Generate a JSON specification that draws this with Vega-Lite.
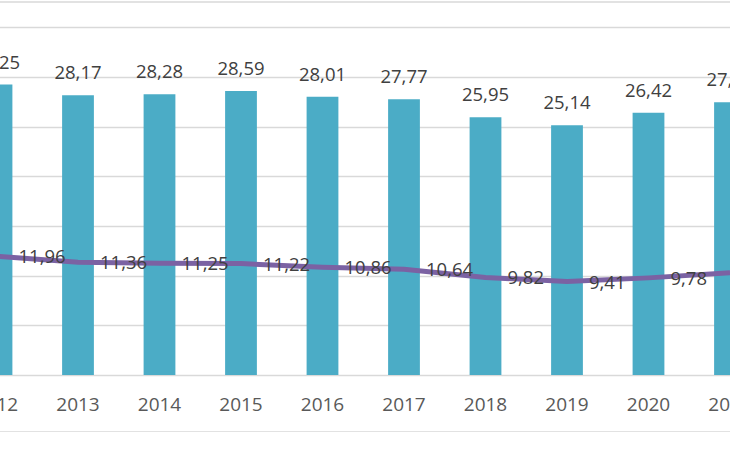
{
  "$schema": "https://vega.github.io/schema/vega-lite/v6.json",
  "width": 815,
  "height": 430,
  "autosize": {"type": "none"},
  "padding": {"left": -44.25, "top": 2, "right": 0, "bottom": 0},
  "background": "white",
  "config": {
    "view": {"stroke": "#d9d9d9", "strokeWidth": 1.5},
    "font": "Open Sans",
    "locale": {"number": {"decimal": ",", "thousands": ".", "grouping": [3], "currency": ["", " €"]}}
  },
  "data": {
    "values": [
      {"year": "2012", "bar": 29.25, "line": 11.96},
      {"year": "2013", "bar": 28.17, "line": 11.36},
      {"year": "2014", "bar": 28.28, "line": 11.25},
      {"year": "2015", "bar": 28.59, "line": 11.22},
      {"year": "2016", "bar": 28.01, "line": 10.86},
      {"year": "2017", "bar": 27.77, "line": 10.64},
      {"year": "2018", "bar": 25.95, "line": 9.82},
      {"year": "2019", "bar": 25.14, "line": 9.41},
      {"year": "2020", "bar": 26.42, "line": 9.78},
      {"year": "2021", "bar": 27.46, "line": 10.3}
    ]
  },
  "encoding": {
    "x": {
      "field": "year",
      "type": "ordinal",
      "scale": {"paddingInner": 0.61, "paddingOuter": 0.305},
      "axis": {
        "title": null,
        "labelAngle": 0,
        "offset": -57,
        "domain": false,
        "ticks": false,
        "labelPadding": 20,
        "labelBaseline": "top",
        "labelFontSize": 19,
        "labelColor": "#595959"
      }
    }
  },
  "layer": [
    {
      "mark": {"type": "bar", "color": "#4BACC6"},
      "encoding": {
        "y": {
          "field": "bar",
          "type": "quantitative",
          "scale": {"domain": [-5.74, 37.56], "nice": false, "zero": false},
          "axis": {
            "values": [0, 5, 10, 15, 20, 25, 30, 35],
            "labels": false,
            "ticks": false,
            "domain": false,
            "title": null,
            "gridColor": "#d9d9d9",
            "gridWidth": 1.3
          }
        }
      }
    },
    {
      "mark": {"type": "text", "baseline": "alphabetic", "dy": -16, "fontSize": 18.5, "color": "#404040"},
      "encoding": {
        "y": {"field": "bar", "type": "quantitative"},
        "text": {"field": "bar", "type": "quantitative", "format": ".2f"}
      }
    },
    {
      "mark": {"type": "line", "color": "#7B62A3", "strokeWidth": 5},
      "encoding": {
        "y": {"field": "line", "type": "quantitative"}
      }
    },
    {
      "mark": {"type": "text", "align": "left", "baseline": "alphabetic", "dx": 22, "dy": 7, "fontSize": 18.5, "color": "#404040"},
      "encoding": {
        "y": {"field": "line", "type": "quantitative"},
        "text": {"field": "line", "type": "quantitative", "format": ".2f"}
      }
    }
  ]
}
